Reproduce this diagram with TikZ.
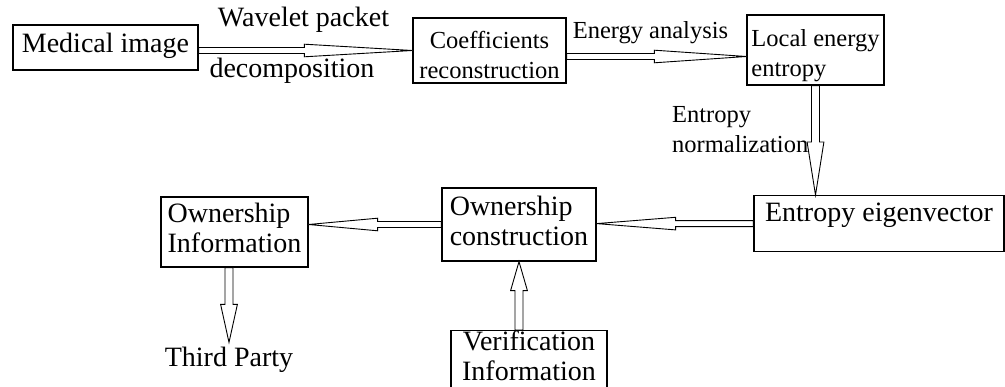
\documentclass[tikz,border=0pt]{standalone}
\usepackage{fontspec}
\setmainfont{Liberation Serif}
\usetikzlibrary{calc,positioning}

\newcommand{\bigtxt}{\fontsize{28}{30}\selectfont}
\newcommand{\smalltxt}{\fontsize{24.5}{30}\selectfont}

\tikzset{
  block/.style={draw, line width=1.2pt, inner sep=2pt, font=\bigtxt},
  note/.style={inner sep=0pt, font=\bigtxt},
  hollow/.style={draw, fill=white, line width=0.9pt, line join=miter},
}

% hollow block arrow: [shaft half width]{from}{tip}{head length}
\newcommand{\blockarrow}[4][3]{%
  \coordinate (hd) at ($(#3)!#4!(#2)$);
  \draw[hollow] ($(#2)!#1pt!90:(#3)$) -- ($(hd)!#1pt!90:(#3)$) -- ($(hd)!2.1*#1pt!90:(#3)$) -- (#3)
     -- ($(hd)!2.1*#1pt!-90:(#3)$) -- ($(hd)!#1pt!-90:(#3)$) -- ($(#2)!#1pt!-90:(#3)$) -- cycle;
}

\begin{document}
\begin{tikzpicture}[x=1pt, y=-1pt]
    \useasboundingbox (0,0) rectangle (1005,387);

    \node[block, text height=26pt, text depth=15pt, minimum width=185pt]                       (med)     at (105.5,47.5) {Medical image};
    \node[block, font=\smalltxt, align=center, text height=59pt, text depth=2pt, minimum width=153pt] (coef) at (489.5,50.5) {Coefficients\\reconstruction};
    \node[block, font=\smalltxt, align=left, text height=60pt, text depth=6pt, minimum width=137pt]   (loc)  at (815.5,50)   {Local energy\\entropy};
    \node[block, anchor=north, text height=24pt, text depth=28pt, minimum width=250pt]           (eig)     at (879,195)    {Entropy eigenvector};
    \node[block, align=left, text height=56pt, text depth=13pt, minimum width=154pt]             (own)     at (519,224.5)  {Ownership\\construction};
    \node[block, align=left, text height=54pt, text depth=12pt, minimum width=147pt]             (owninfo) at (234.5,232)  {Ownership\\Information};
    \node[block, align=center, anchor=north, text height=48pt, text depth=10pt, minimum width=156pt] (verif) at (529,330)   {Verification\\Information};

    \node[note, anchor=base]                          (wp)    at (303.5,27) {Wavelet packet};
    \node[note, anchor=base]                          (dec)   at (292,78)   {decomposition};
    \node[note, font=\smalltxt, anchor=base]          (ea)    at (650.5,39) {Energy analysis};
    \node[note, font=\smalltxt, align=left, anchor=west] (en) at (672,130)  {Entropy\\normalization};
    \node[note, anchor=base, inner sep=5pt]           (third) at (229,367)  {Third Party};

    \coordinate (a1) at (med.east |- coef.west);
    \coordinate (a2) at ([yshift=-6pt]coef.east);
    \coordinate (b2) at (loc.west |- a2);
    \coordinate (b3) at (loc.south |- eig.north);
    \coordinate (b4) at (own.east |- eig.west);
    \coordinate (b5) at (owninfo.east |- own.west);
    \coordinate (a6) at (owninfo.south -| third.north);
    \coordinate (a7) at (own.south |- verif.north);

    \blockarrow{a1}{coef.west}{108pt}
    \blockarrow{a2}{b2}{92pt}
    \blockarrow[4]{loc.south}{b3}{53pt}
    \blockarrow{eig.west}{b4}{79pt}
    \blockarrow{own.west}{b5}{69pt}
    \blockarrow[4]{a6}{third.north}{38pt}
    \blockarrow[4]{a7}{own.south}{29pt}
\end{tikzpicture}
\end{document}
